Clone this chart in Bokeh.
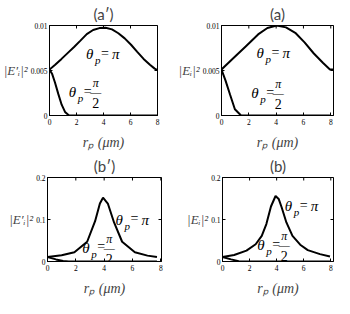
import math
from bokeh.plotting import figure
from bokeh.layouts import column, row
from bokeh.models import FixedTicker, Range1d
from bokeh.core.properties import value
from bokeh.embed import file_html
from bokeh.resources import INLINE

# ---- data ----
# (a') top-left
ap_r_pi = [0, 0.42, 0.89, 1.36, 1.82, 2.29, 2.76, 3.23, 3.70, 4.16, 4.63, 5.10, 5.57, 6.04, 6.50, 6.97, 7.44, 7.79, 8.0]
ap_e_pi = [0.0051, 0.00564, 0.00629, 0.00696, 0.00761, 0.00832, 0.00904, 0.0095, 0.00971, 0.00975, 0.00957, 0.00914, 0.00857, 0.00786, 0.00707, 0.00629, 0.00564, 0.00521, 0.00505]
ap_r_half = [0, 0.2, 0.4, 0.65, 0.9, 1.15, 1.45, 2, 4, 6, 8.0]
ap_e_half = [0.0051, 0.0046, 0.0037, 0.0024, 0.0012, 0.0004, 0.0, 0.0, 0.0, 0.0, 0.0]
# (a) top-right
a_r_pi = [0, 0.86, 1.77, 2.68, 3.36, 4.04, 4.72, 5.40, 6.08, 6.76, 7.44, 7.94, 8.2]
a_e_pi = [0.00512, 0.00636, 0.00767, 0.00901, 0.00972, 0.0100, 0.00979, 0.00919, 0.00813, 0.00689, 0.00583, 0.00512, 0.00512]
a_r_half = [0, 0.29, 0.63, 0.98, 1.43, 3, 5, 7.94]
a_e_half = [0.0051, 0.0039, 0.0023, 0.0007, 0.0, 0.0, 0.0, 0.0]
# (b') bottom-left
bp_r_pi = [0, 1.0, 1.9, 2.8, 3.36, 3.7, 3.92, 4.26, 4.7, 5.27, 6.17, 7.06, 7.73]
bp_e_pi = [0.0105, 0.0147, 0.022, 0.047, 0.096, 0.138, 0.152, 0.138, 0.093, 0.047, 0.022, 0.014, 0.0105]
bp_r_half = [0, 0.6, 1.1, 1.5, 3, 5, 7.73]
bp_e_half = [0.0105, 0.005, 0.0012, 0.0, 0.0, 0.0, 0.0]
# (b) bottom-right
b_r_pi = [0, 0.86, 1.77, 2.45, 2.9, 3.24, 3.58, 3.92, 4.15, 4.38, 4.72, 5.17, 5.74, 6.3, 7.2, 7.94]
b_e_pi = [0.0105, 0.0154, 0.026, 0.041, 0.061, 0.089, 0.131, 0.156, 0.149, 0.128, 0.093, 0.061, 0.040, 0.027, 0.0175, 0.012]
b_r_half = [0, 0.63, 1.2, 1.54, 3, 5, 7.94]
b_e_half = [0.0105, 0.005, 0.0007, 0.0, 0.0, 0.0, 0.0]

x_ticks = [0, 2, 4, 6, 8]
top_y_ticks = [0, 0.005, 0.01]
top_y_labels = {0: "0", 0.005: "0.005", 0.01: "0.01"}
bot_y_ticks = [0, 0.1, 0.2]
bot_y_labels = {0: "0", 0.1: "0.1", 0.2: "0.2"}

titles = ["(a\u2032)", "(a)", "(b\u2032)", "(b)"]
ylabels = ["|E\u2032\u1d62|\u00b2", "|E\u1d62|\u00b2", "|E\u2032\u1d62|\u00b2", "|E\u1d62|\u00b2"]
xlabel = "r\u209a (\u03bcm)"

# label anchors (left of theta, middle height)
pi_label_pos = [(2.7, 0.0068), (2.56, 0.0069), (4.8, 0.099), (4.6, 0.131)]
half_label_pos = [(1.42, 0.0026), (2.18, 0.0025), (2.45, 0.033), (2.57, 0.039)]

SERIF = "Liberation Serif"


def make_panel(i, r_pi, e_pi, r_half, e_half, yticks, ylabs, ymax, xmax,
               w, h, bl, br, bt, bb, toff):
    p = figure(width=w, height=h, output_backend="svg", toolbar_location=None,
               x_range=Range1d(0, xmax), y_range=Range1d(0, ymax),
               min_border_left=bl, min_border_right=br, min_border_top=bt,
               min_border_bottom=bb, title=titles[i])
    p.title.align = "center"
    p.title.text_font = "Lato"
    p.title.text_font_style = "normal"
    p.title.text_font_size = "15px"
    p.title.offset = toff
    p.title.standoff = 5
    p.grid.visible = False
    p.outline_line_color = "black"
    p.outline_line_width = 1

    for ax in p.xaxis:
        ax.ticker = FixedTicker(ticks=x_ticks)
        ax.axis_label = xlabel
        ax.axis_label_text_font = SERIF
        ax.axis_label_text_font_style = "italic"
        ax.axis_label_text_font_size = "14px"
        ax.axis_label_standoff = 7
        ax.major_label_standoff = 3
    for ax in p.yaxis:
        ax.ticker = FixedTicker(ticks=yticks)
        ax.major_label_overrides = ylabs
        ax.axis_label = ylabels[i]
        ax.axis_label_orientation = "horizontal"
        ax.axis_label_text_font = SERIF
        ax.axis_label_text_font_style = "italic"
        ax.axis_label_text_font_size = "13px"
        ax.axis_label_standoff = 0
        ax.major_label_standoff = 2
    for ax in list(p.xaxis) + list(p.yaxis):
        ax.major_label_text_font = SERIF
        ax.major_label_text_font_size = "7.5px"
        ax.major_label_text_color = "black"
        ax.major_tick_in = 3
        ax.major_tick_out = 0
        ax.minor_tick_line_color = None
        ax.axis_line_color = "black"
        ax.major_tick_line_color = "black"

    # mirrored inward ticks on the top and right edges (markers clipped to the frame)
    p.scatter(x_ticks, [ymax] * len(x_ticks), marker="dash", angle=math.pi / 2,
              size=6, line_color="black", line_width=1)
    p.scatter([xmax] * len(yticks), yticks, marker="dash", size=6,
              line_color="black", line_width=1)

    p.line(r_pi, e_pi, line_color="black", line_width=2)
    p.line(r_half, e_half, line_color="black", line_width=2)

    def theta_p(x, y):
        p.text([x], [y], text=["\u03b8"], text_font=value(SERIF), text_font_style="italic",
               text_font_size="15px", text_baseline="middle", text_align="left")
        p.text([x], [y], text=["p"], text_font=value(SERIF), text_font_style="italic",
               text_font_size="11px", text_baseline="middle", text_align="left",
               x_offset=9, y_offset=6)
        p.text([x], [y], text=["="], text_font=value(SERIF),
               text_font_size="14px", text_baseline="middle", text_align="left",
               x_offset=15, y_offset=-1)

    lx, ly = pi_label_pos[i]
    theta_p(lx, ly)
    p.text([lx], [ly], text=["\u03c0"], text_font=value(SERIF), text_font_style="italic",
           text_font_size="15px", text_baseline="middle", text_align="left",
           x_offset=26)

    hx, hy = half_label_pos[i]
    theta_p(hx, hy)
    p.text([hx], [hy], text=["\u03c0"], text_font=value(SERIF), text_font_style="italic",
           text_font_size="12px", text_baseline="middle", text_align="center",
           x_offset=27, y_offset=-9)
    p.text([hx], [hy], text=["2"], text_font=value(SERIF),
           text_font_size="14px", text_baseline="middle", text_align="center",
           x_offset=27, y_offset=11)
    p.text([hx], [hy], text=["\u2014"], text_font=value(SERIF),
           text_font_size="11px", text_baseline="middle", text_align="center",
           x_offset=27, y_offset=0)
    return p


p1 = make_panel(0, ap_r_pi, ap_e_pi, ap_r_half, ap_e_half, top_y_ticks, top_y_labels,
                0.01, 8.0, 164, 152, 45, 7, 25, 33, -13)
p2 = make_panel(1, a_r_pi, a_e_pi, a_r_half, a_e_half, top_y_ticks, top_y_labels,
                0.01, 8.2, 170, 152, 57, 1, 25, 33, -23)
p3 = make_panel(2, bp_r_pi, bp_e_pi, bp_r_half, bp_e_half, bot_y_ticks, bot_y_labels,
                0.2, 8.05, 164, 146, 47, 3, 25, 29, -19)
p4 = make_panel(3, b_r_pi, b_e_pi, b_r_half, b_e_half, bot_y_ticks, bot_y_labels,
                0.2, 8.2, 170, 146, 58, 1, 25, 29, -21)

layout = column(row(p1, p2, spacing=0), row(p3, p4, spacing=0), spacing=0)

open("out.html", "w").write(file_html(layout, INLINE))
